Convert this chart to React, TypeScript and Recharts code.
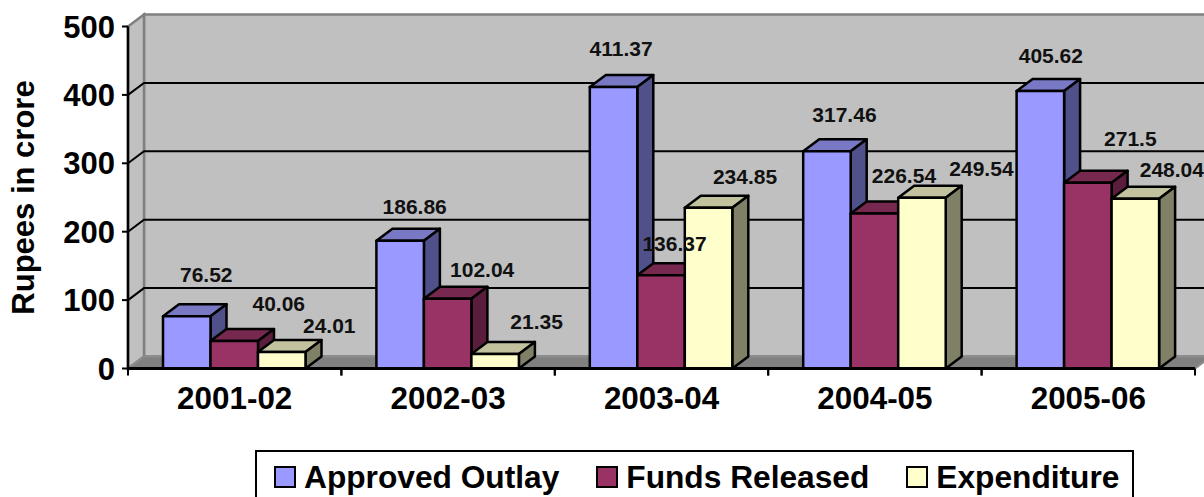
import { Bar, BarChart, CartesianGrid, Label, LabelList, Legend, XAxis, YAxis } from "recharts";

const categories = ["2001-02", "2002-03", "2003-04", "2004-05", "2005-06"];
const approvedOutlay = [76.52, 186.86, 411.37, 317.46, 405.62];
const fundsReleased = [40.06, 102.04, 136.37, 226.54, 271.5];
const expenditure = [24.01, 21.35, 234.85, 249.54, 248.04];
const valueTicks = [0, 100, 200, 300, 400, 500];

const rows = categories.map((year, i) => ({
  year,
  approved: approvedOutlay[i],
  funds: fundsReleased[i],
  spent: expenditure[i],
}));

const FONT = '"Liberation Sans", Arial, sans-serif';
const WIDTH = 1204;
const HEIGHT = 497;
const PLOT_LEFT = 128;
const PLOT_RIGHT = 1195;
const PLOT_TOP = 26.5;
const PLOT_BOTTOM = 368.5;
// depth of the fake 3D extrusion
const DX = 16;
const DY = -12;

const SHADES: Record<string, { top: string; side: string }> = {
  "#9999FF": { top: "#7878C4", side: "#50508A" },
  "#993366": { top: "#77284F", side: "#5A1E3C" },
  "#FFFFCC": { top: "#C2C29F", side: "#808066" },
};

// hand-placed data label nudges, relative to the top centre of each bar
const approvedNudge = [[19.5, -41], [14.5, -34], [7.5, -38], [17.5, -36], [10.5, -35]];
const fundsNudge = [[44.5, -37], [34.5, -29], [13.5, -31], [29.5, -38], [42.5, -44]];
const spentNudge = [[47.5, -26], [41.5, -32], [36.5, -31], [59.5, -29], [36.5, -29]];

function Box3D(props: any) {
  const { x, y, width, height, fill } = props;
  const shade = SHADES[fill];
  const r = x + width;
  const b = y + height;
  return (
    <g stroke="#000" strokeWidth={2.5} strokeLinejoin="round">
      <polygon points={`${x},${y} ${x + DX},${y + DY} ${r + DX},${y + DY} ${r},${y}`} fill={shade.top} />
      <polygon points={`${r},${y} ${r + DX},${y + DY} ${r + DX},${b + DY} ${r},${b}`} fill={shade.side} />
      <rect x={x} y={y} width={width} height={height} fill={fill} />
    </g>
  );
}

// draws the walls and floor once, then a grid line with its run up the side wall
function gridLine(props: any) {
  const { y1, index } = props;
  const isInner = y1 > PLOT_TOP + 1 && y1 < PLOT_BOTTOM - 1;
  return (
    <g key={`line-${index}`}>
      {index === 0 && (
        <g>
          <polygon
            points={`${PLOT_LEFT + DX},${PLOT_TOP + DY} ${PLOT_RIGHT + DX},${PLOT_TOP + DY} ${PLOT_RIGHT + DX},${PLOT_BOTTOM + DY} ${PLOT_LEFT + DX},${PLOT_BOTTOM + DY}`}
            fill="#C0C0C0"
            stroke="#808080"
            strokeWidth={2.5}
          />
          <polygon
            points={`${PLOT_LEFT},${PLOT_TOP} ${PLOT_LEFT + DX},${PLOT_TOP + DY} ${PLOT_LEFT + DX},${PLOT_BOTTOM + DY} ${PLOT_LEFT},${PLOT_BOTTOM}`}
            fill="#C0C0C0"
            stroke="#808080"
            strokeWidth={2.5}
          />
          <polygon
            points={`${PLOT_LEFT},${PLOT_BOTTOM} ${PLOT_LEFT + DX},${PLOT_BOTTOM + DY} ${PLOT_RIGHT + DX},${PLOT_BOTTOM + DY} ${PLOT_RIGHT},${PLOT_BOTTOM}`}
            fill="#808080"
            stroke="#8C8C8C"
            strokeWidth={2}
          />
        </g>
      )}
      {isInner && (
        <polyline
          points={`${PLOT_LEFT},${y1} ${PLOT_LEFT + DX},${y1 + DY} ${PLOT_RIGHT + DX},${y1 + DY}`}
          fill="none"
          stroke="#000"
          strokeWidth={2}
        />
      )}
    </g>
  );
}

function CategoryTick(props: any) {
  const { x, y, payload } = props;
  const half = (PLOT_RIGHT - PLOT_LEFT) / categories.length / 2;
  return (
    <g>
      <line x1={x - half} x2={x - half} y1={PLOT_BOTTOM} y2={PLOT_BOTTOM + 7} stroke="#000" strokeWidth={2} />
      <line x1={x + half} x2={x + half} y1={PLOT_BOTTOM} y2={PLOT_BOTTOM + 7} stroke="#000" strokeWidth={2} />
      <text x={x} y={y} dy={32} textAnchor="middle" fontFamily={FONT} fontWeight={700} fontSize={31.4} fill="#000">
        {payload.value}
      </text>
    </g>
  );
}

function valueLabel(nudges: number[][]) {
  return (props: any) => {
    const { x, y, width, value, index } = props;
    const [dx, dy] = nudges[index];
    return (
      <text
        x={x + width / 2 + dx}
        y={y + dy}
        dy={7}
        textAnchor="middle"
        fontFamily={FONT}
        fontWeight={700}
        fontSize={21}
        fill="#111"
      >
        {value}
      </text>
    );
  };
}

function LegendBox({ payload }: any) {
  return (
    <div
      style={{
        boxSizing: "border-box",
        width: 879,
        height: 54,
        border: "2px solid #000",
        background: "#fff",
        display: "flex",
        alignItems: "center",
        paddingLeft: 17,
        fontFamily: FONT,
        fontWeight: 700,
        fontSize: 31.7,
        color: "#000",
        whiteSpace: "nowrap",
      }}
    >
      {payload.map((entry: any, i: number) => (
        <span key={entry.value} style={{ display: "flex", alignItems: "center", marginLeft: i === 0 ? 0 : 37 }}>
          <span
            style={{
              display: "inline-block",
              width: 22,
              height: 22,
              boxSizing: "border-box",
              border: "2px solid #000",
              background: entry.color,
              marginRight: 8,
            }}
          />
          {entry.value}
        </span>
      ))}
    </div>
  );
}

export default function App() {
  return (
    <div style={{ position: "absolute", left: 0, top: 0, width: WIDTH, height: HEIGHT, overflow: "hidden", background: "#fff" }}>
      <BarChart
        width={WIDTH}
        height={HEIGHT}
        data={rows}
        margin={{ top: PLOT_TOP, right: WIDTH - PLOT_RIGHT, left: 0, bottom: 0 }}
        barGap={0}
        barSize={47.5}
      >
        <CartesianGrid vertical={false} horizontal={gridLine} />
        <XAxis
          dataKey="year"
          height={HEIGHT - PLOT_BOTTOM}
          axisLine={{ stroke: "#000", strokeWidth: 3 }}
          tickLine={false}
          tick={<CategoryTick />}
          interval={0}
        />
        <YAxis
          width={PLOT_LEFT}
          domain={[0, 500]}
          ticks={valueTicks}
          axisLine={{ stroke: "#000", strokeWidth: 2.5 }}
          tickLine={{ stroke: "#000", strokeWidth: 2 }}
          tickSize={6}
          tickMargin={7}
          tick={{ fontFamily: FONT, fontWeight: 700, fontSize: 31, fill: "#000" }}
        >
          <Label
            content={() => (
              <text
                transform={`translate(34 ${(PLOT_TOP + PLOT_BOTTOM) / 2}) rotate(-90)`}
                textAnchor="middle"
                fontFamily={FONT}
                fontWeight={700}
                fontSize={31}
                fill="#000"
              >
                Rupees in crore
              </text>
            )}
          />
        </YAxis>
        <Legend content={<LegendBox />} itemSorter={null} wrapperStyle={{ left: 255, top: 450, width: 879, height: 0 }} />
        <Bar dataKey="approved" name="Approved Outlay" fill="#9999FF" shape={<Box3D />} isAnimationActive={false}>
          <LabelList dataKey="approved" content={valueLabel(approvedNudge)} />
        </Bar>
        <Bar dataKey="funds" name="Funds Released" fill="#993366" shape={<Box3D />} isAnimationActive={false}>
          <LabelList dataKey="funds" content={valueLabel(fundsNudge)} />
        </Bar>
        <Bar dataKey="spent" name="Expenditure" fill="#FFFFCC" shape={<Box3D />} isAnimationActive={false}>
          <LabelList dataKey="spent" content={valueLabel(spentNudge)} />
        </Bar>
      </BarChart>
    </div>
  );
}
